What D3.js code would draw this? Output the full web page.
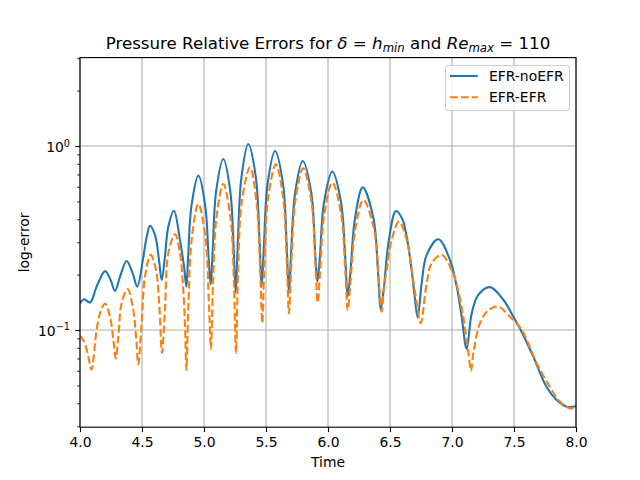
<!DOCTYPE html>
<html><head><meta charset="utf-8">
<script src="https://cdn.jsdelivr.net/npm/d3@7"></script>
<style>body{margin:0;background:#fff} text{font-family:"DejaVu Sans",sans-serif;fill:#000}</style>
</head><body>
<svg id="chart" width="640" height="480"></svg>
<script>
// ---- data ----
const timeNoEFR = [4.000,4.032,4.081,4.134,4.202,4.247,4.282,4.323,4.376,4.425,4.462,4.511,4.538,4.565,4.605,4.637,4.659,4.685,4.712,4.758,4.806,4.839,4.858,4.871,4.899,4.955,5.010,5.038,5.054,5.070,5.098,5.156,5.212,5.240,5.256,5.273,5.302,5.357,5.418,5.448,5.465,5.483,5.513,5.573,5.637,5.667,5.685,5.703,5.735,5.796,5.865,5.896,5.914,5.934,5.968,6.035,6.105,6.139,6.159,6.180,6.218,6.280,6.366,6.404,6.425,6.449,6.491,6.548,6.600,6.635,6.675,6.700,6.723,6.755,6.796,6.890,6.984,7.038,7.078,7.118,7.159,7.212,7.306,7.414,7.495,7.554,7.656,7.763,7.844,7.925,8.000];
const errNoEFR  = [0.140,0.147,0.141,0.172,0.209,0.187,0.163,0.195,0.237,0.203,0.172,0.250,0.321,0.368,0.328,0.240,0.187,0.250,0.364,0.445,0.308,0.221,0.172,0.242,0.473,0.690,0.473,0.242,0.177,0.269,0.568,0.850,0.568,0.269,0.160,0.304,0.676,1.025,0.676,0.304,0.172,0.287,0.624,0.940,0.624,0.287,0.158,0.268,0.557,0.829,0.557,0.268,0.183,0.247,0.494,0.726,0.494,0.247,0.152,0.204,0.406,0.596,0.406,0.204,0.129,0.166,0.309,0.443,0.400,0.320,0.210,0.150,0.117,0.179,0.256,0.311,0.240,0.172,0.118,0.079,0.123,0.155,0.171,0.146,0.118,0.100,0.0716,0.049,0.0416,0.0383,0.0385];
const timeEFR = [4.000,4.032,4.067,4.092,4.134,4.161,4.202,4.242,4.269,4.288,4.309,4.336,4.384,4.425,4.452,4.470,4.497,4.524,4.570,4.613,4.640,4.661,4.685,4.712,4.766,4.806,4.833,4.848,4.858,4.874,4.902,4.954,5.012,5.040,5.056,5.072,5.100,5.156,5.214,5.242,5.258,5.275,5.305,5.371,5.423,5.453,5.470,5.487,5.517,5.580,5.638,5.668,5.685,5.704,5.736,5.800,5.866,5.898,5.917,5.936,5.970,6.035,6.106,6.140,6.159,6.181,6.219,6.285,6.373,6.411,6.433,6.450,6.473,6.513,6.572,6.635,6.675,6.715,6.747,6.796,6.835,6.917,6.997,7.038,7.091,7.132,7.153,7.172,7.226,7.293,7.373,7.468,7.562,7.683,7.790,7.871,7.952,8.000];
const errEFR  = [0.093,0.0866,0.0717,0.0609,0.100,0.123,0.139,0.118,0.088,0.070,0.092,0.140,0.167,0.134,0.092,0.065,0.109,0.195,0.256,0.212,0.134,0.075,0.128,0.261,0.332,0.261,0.165,0.100,0.0607,0.137,0.317,0.484,0.317,0.137,0.0788,0.173,0.405,0.622,0.405,0.173,0.075,0.212,0.498,0.766,0.498,0.212,0.109,0.230,0.522,0.795,0.522,0.230,0.123,0.229,0.501,0.757,0.501,0.229,0.141,0.207,0.426,0.632,0.426,0.207,0.128,0.180,0.349,0.509,0.349,0.180,0.126,0.165,0.212,0.308,0.388,0.309,0.212,0.140,0.109,0.179,0.230,0.256,0.212,0.176,0.118,0.075,0.060,0.075,0.109,0.128,0.134,0.118,0.100,0.066,0.049,0.0407,0.0375,0.0380];
const seriesNames = ["EFR-noEFR", "EFR-EFR"];
const xTickValues = [4.0,4.5,5.0,5.5,6.0,6.5,7.0,7.5,8.0];
const yMajorTicks = [0.1, 1];
const yMajorLabels = [["10","\u22121"],["10","0"]];
const yMinorTicks = [0.03,0.04,0.05,0.06,0.07,0.08,0.09,0.2,0.3,0.4,0.5,0.6,0.7,0.8,0.9,2,3];
const xDomain = [4, 8];
const yDomain = [0.02963, 3.023];

// ---- layout ----
const L = 80, R = 576, T = 57.6, B = 427.2;
const svg = d3.select("#chart");
const x = d3.scaleLinear().domain(xDomain).range([L, R]);
const y = d3.scaleLog().domain(yDomain).range([B, T]);
const colBlue = "#1f77b4", colOrange = "#ff7f0e";

svg.append("defs").append("clipPath").attr("id","clip")
  .append("rect").attr("x",L).attr("y",T).attr("width",R-L).attr("height",B-T);

// grid
const grid = svg.append("g").attr("stroke","#b0b0b0").attr("stroke-width",0.8*100/72);
grid.selectAll(".gx").data(xTickValues).join("line")
  .attr("x1",d=>x(d)).attr("x2",d=>x(d)).attr("y1",T).attr("y2",B);
grid.selectAll(".gy").data(yMajorTicks).join("line")
  .attr("x1",L).attr("x2",R).attr("y1",d=>y(d)).attr("y2",d=>y(d));

// lines
const line = d3.line().x(d=>x(d[0])).y(d=>y(d[1])).curve(d3.curveCatmullRom.alpha(0.5));
const g = svg.append("g").attr("clip-path","url(#clip)");
g.append("path").datum(d3.zip(timeNoEFR, errNoEFR)).attr("d",line)
  .attr("fill","none").attr("stroke",colBlue).attr("stroke-width",1.5*100/72)
  .attr("stroke-linejoin","round").attr("stroke-linecap","square");
g.append("path").datum(d3.zip(timeEFR, errEFR)).attr("d",line)
  .attr("fill","none").attr("stroke",colOrange).attr("stroke-width",1.5*100/72)
  .attr("stroke-dasharray","7.7,3.3");

// axes
const xAxis = d3.axisBottom(x).tickValues(xTickValues).tickFormat(d3.format(".1f"))
  .tickSize(4.86).tickPadding(4.86);
const gx = svg.append("g").attr("transform",`translate(0,${B})`).call(xAxis);
gx.select(".domain").remove();
gx.selectAll("line").attr("stroke","#000").attr("stroke-width",0.8*100/72);
gx.selectAll("text").attr("font-family","DejaVu Sans").attr("font-size",13.9).attr("fill","#000").attr("dy","0.71em");

const yAxis = d3.axisLeft(y).tickValues(yMinorTicks).tickFormat("").tickSize(2.78);
const gyMinor = svg.append("g").attr("transform",`translate(${L},0)`).call(yAxis);
gyMinor.select(".domain").remove();
gyMinor.selectAll("line").attr("stroke","#000").attr("stroke-width",0.6*100/72);

const yAxisMaj = d3.axisLeft(y).tickValues(yMajorTicks).tickFormat("").tickSize(4.86);
const gyMajor = svg.append("g").attr("transform",`translate(${L},0)`).call(yAxisMaj);
gyMajor.select(".domain").remove();
gyMajor.selectAll("line").attr("stroke","#000").attr("stroke-width",0.8*100/72);
yMajorTicks.forEach((v,i)=>{
  const t = svg.append("text").attr("x",70).attr("y",y(v)+6).attr("text-anchor","end").attr("font-size",13.9);
  t.append("tspan").text(yMajorLabels[i][0]);
  t.append("tspan").attr("font-size",9.7).attr("dy",-5.5).text(yMajorLabels[i][1]);
});

// spines
svg.append("rect").attr("x",L).attr("y",T).attr("width",R-L).attr("height",B-T)
  .attr("fill","none").attr("stroke","#000").attr("stroke-width",0.8*100/72);

// labels
svg.append("text").attr("x",(L+R)/2).attr("y",466.5).attr("text-anchor","middle").attr("font-size",13.9).text("Time");
svg.append("text").attr("transform",`translate(29,${(T+B)/2}) rotate(-90)`).attr("text-anchor","middle").attr("font-size",13.9).text("log-error");

// title
const title = svg.append("text").attr("x",(L+R)/2).attr("y",49.3).attr("text-anchor","middle").attr("font-size",16.67);
title.append("tspan").text("Pressure Relative Errors for ");
title.append("tspan").attr("font-style","italic").text("\u03b4");
title.append("tspan").text(" = ");
title.append("tspan").attr("font-style","italic").text("h");
title.append("tspan").attr("font-style","italic").attr("font-size",11.7).attr("dy",3).text("min");
title.append("tspan").attr("dy",-3).text(" and ");
title.append("tspan").attr("font-style","italic").text("Re");
title.append("tspan").attr("font-style","italic").attr("font-size",11.7).attr("dy",3).text("max");
title.append("tspan").attr("dy",-3).text(" = 110");

// legend
const lg = svg.append("g");
lg.append("rect").attr("x",445.5).attr("y",65.5).attr("width",124).attr("height",45).attr("rx",2.8)
  .attr("fill","#fff").attr("fill-opacity",0.8).attr("stroke","#cccccc").attr("stroke-width",1);
[[colBlue,null],[colOrange,"7.7,3.3"]].forEach((s,i)=>{
  const yy = 76 + i*21.3;
  lg.append("line").attr("x1",450).attr("x2",477.8).attr("y1",yy).attr("y2",yy)
    .attr("stroke",s[0]).attr("stroke-width",1.5*100/72).attr("stroke-dasharray",s[1]);
  lg.append("text").attr("x",489).attr("y",yy+5).attr("font-size",13.9).text(seriesNames[i]);
});
</script>
</body></html>
